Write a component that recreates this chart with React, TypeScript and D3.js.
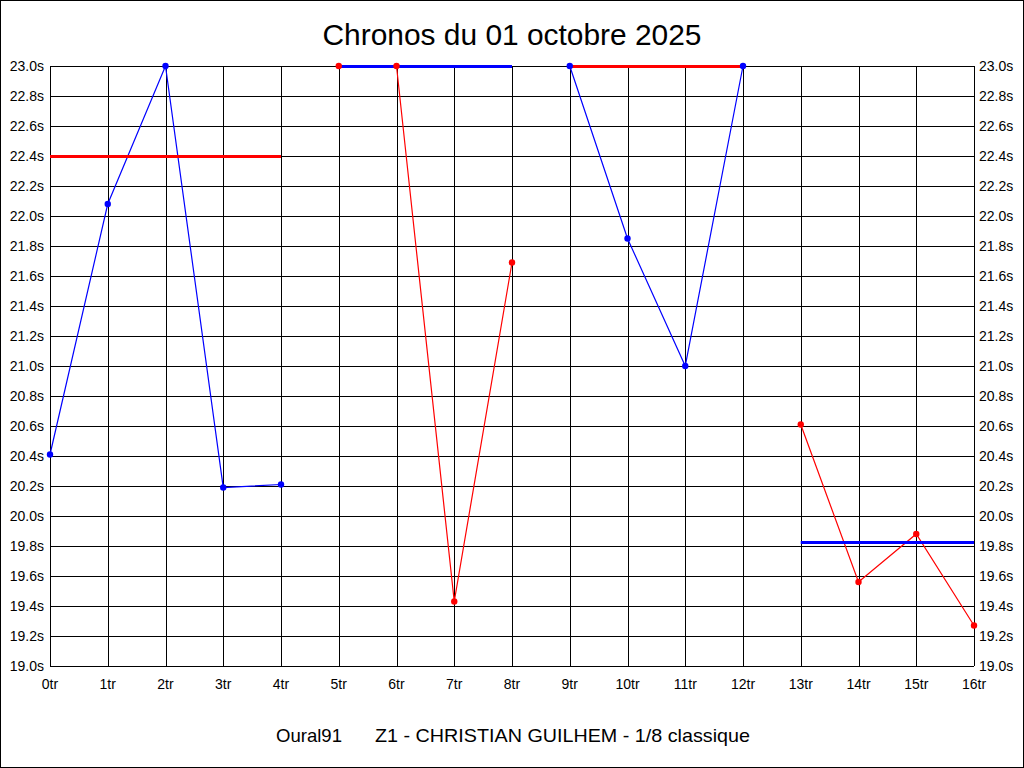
import React from "react";
import * as d3 from "d3";

const laps = d3.range(0, 17);
const lapLabels = laps.map((l) => `${l}tr`);
const yTicks = d3.range(0, 21).map((i) => 19 + i * 0.2);

const blueTimes: (number | null)[] = [20.41, 22.08, 23.0, 20.19, 20.21, null, null, null, null, 23.0, 21.85, 21.0, 23.0, null, null, null, null];
const redTimes: (number | null)[] = [null, null, null, null, null, 23.0, 23.0, 19.43, 21.69, null, null, null, null, 20.61, 19.56, 19.88, 19.27];

const redRefFrom = [0, 9];
const redRefTo = [4, 12];
const redRefValue = [22.4, 23.0];
const blueRefFrom = [5, 13];
const blueRefTo = [8, 16];
const blueRefValue = [23.0, 19.83];

const title = "Chronos du 01 octobre 2025";
const footerLeft = "Oural91";
const footerRight = "Z1 - CHRISTIAN GUILHEM - 1/8 classique";

const W = 1024, H = 768;
const x = d3.scaleLinear().domain([0, 16]).range([50, 974]);
const y = d3.scaleLinear().domain([19, 23]).range([666, 66]);
const FONT = "'Liberation Sans', Arial, sans-serif";

export default function App() {
  const line = d3
    .line<number | null>()
    .defined((d) => d != null)
    .x((_, i) => x(i))
    .y((d) => y(d as number));

  const series = [
    { values: blueTimes, color: "#0000ff" },
    { values: redTimes, color: "#ff0000" },
  ];
  const refs = [
    ...redRefFrom.map((f, i) => ({ from: f, to: redRefTo[i], v: redRefValue[i], color: "#ff0000" })),
    ...blueRefFrom.map((f, i) => ({ from: f, to: blueRefTo[i], v: blueRefValue[i], color: "#0000ff" })),
  ];

  return (
    <svg width={W} height={H} style={{ position: "absolute", left: 0, top: 0, background: "#fff" }} fontFamily={FONT}>
      <rect x={0.5} y={0.5} width={W - 1} height={H - 1} fill="#fff" stroke="#000" />
      <text x={512} y={45} textAnchor="middle" fontSize={30} textLength={379} lengthAdjust="spacingAndGlyphs">{title}</text>
      {yTicks.map((t, i) => (
        <line key={"h" + i} x1={x(0)} x2={x(16)} y1={Math.round(y(t)) + 0.5} y2={Math.round(y(t)) + 0.5} stroke="#000" strokeWidth={1} shapeRendering="crispEdges" />
      ))}
      {laps.map((l) => (
        <line key={"v" + l} x1={Math.round(x(l)) + 0.5} x2={Math.round(x(l)) + 0.5} y1={y(23)} y2={y(19)} stroke="#000" strokeWidth={1} shapeRendering="crispEdges" />
      ))}
      {yTicks.map((t, i) => (
        <g key={"yl" + i} fontSize={14}>
          <text x={44} y={y(t) + 5} textAnchor="end">{t.toFixed(1)}s</text>
          <text x={979} y={y(t) + 5} textAnchor="start">{t.toFixed(1)}s</text>
        </g>
      ))}
      {laps.map((l) => (
        <text key={"xl" + l} x={x(l)} y={689} textAnchor="middle" fontSize={14}>{lapLabels[l]}</text>
      ))}
      {series.map((s, i) => (
        <path key={"s" + i} d={line(s.values) || ""} fill="none" stroke={s.color} strokeWidth={1.2} />
      ))}
      {refs.map((r, i) => (
        <line key={"r" + i} x1={x(r.from)} x2={x(r.to)} y1={Math.round(y(r.v)) + 0.5} y2={Math.round(y(r.v)) + 0.5} stroke={r.color} strokeWidth={3} />
      ))}
      {series.map((s, i) =>
        s.values.map((v, j) =>
          v == null ? null : <circle key={`m${i}-${j}`} cx={x(j)} cy={y(v)} r={3.2} fill={s.color} />
        )
      )}
      <text x={276} y={742} fontSize={19} textLength={66} lengthAdjust="spacingAndGlyphs">{footerLeft}</text>
      <text x={375} y={742} fontSize={19} textLength={375} lengthAdjust="spacingAndGlyphs">{footerRight}</text>
    </svg>
  );
}
